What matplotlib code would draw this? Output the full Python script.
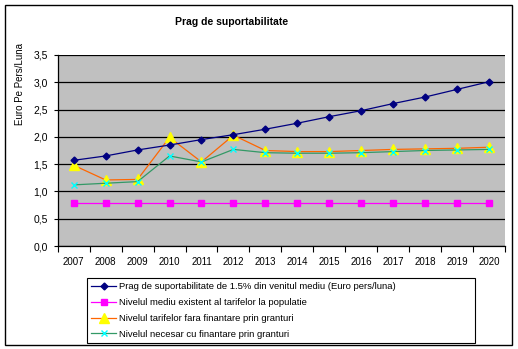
import matplotlib
matplotlib.use("Agg")
import matplotlib.pyplot as plt
from matplotlib.ticker import FixedLocator, FuncFormatter
from matplotlib.patches import Rectangle

years = [str(y) for y in range(2007, 2021)]
prag = [1.57, 1.65, 1.76, 1.85, 1.95, 2.04, 2.14, 2.25, 2.37, 2.48, 2.61, 2.73, 2.87, 3.01]
existent = [0.78] * 14
fara_granturi = [1.48, 1.21, 1.22, 1.99, 1.54, 2.03, 1.75, 1.73, 1.73, 1.75, 1.77, 1.78, 1.79, 1.81]
cu_granturi = [1.12, 1.15, 1.18, 1.65, 1.54, 1.77, 1.71, 1.70, 1.70, 1.71, 1.73, 1.75, 1.76, 1.77]

labels = [
    "Prag de suportabilitate de 1.5% din venitul mediu (Euro pers/luna)",
    "Nivelul mediu existent al tarifelor la populatie",
    "Nivelul tarifelor fara finantare prin granturi",
    "Nivelul necesar cu finantare prin granturi",
]

plt.rcParams["font.family"] = ["Liberation Sans", "DejaVu Sans"]

W, H = 518, 349
fig = plt.figure(figsize=(W / 100, H / 100), dpi=100)
fig.patch.set_facecolor("white")
fig.add_artist(Rectangle((5 / W, 1 - 345 / H), 507 / W, 340 / H, transform=fig.transFigure,
                         fill=False, edgecolor="black", linewidth=1.0))

ax = fig.add_axes([57.7 / W, 1 - 246 / H, (505 - 57.7) / W, (246 - 55) / H])
ax.set_facecolor("#C0C0C0")
x = list(range(len(years)))

ax.plot(x, prag, color="#000080", marker="D", markersize=3.5, linewidth=0.9,
        markerfacecolor="#000080", markeredgecolor="#000080", label=labels[0], zorder=5)
ax.plot(x, existent, color="#FF00FF", marker="s", markersize=5, linewidth=0.9,
        markerfacecolor="#FF00FF", markeredgecolor="#FF00FF", label=labels[1], zorder=4)
ax.plot(x, fara_granturi, color="#FF6600", marker="^", markersize=7, linewidth=0.9,
        markerfacecolor="#FFFF00", markeredgecolor="#FFFF00", label=labels[2], zorder=3)
ax.plot(x, cu_granturi, color="#339966", marker="x", markersize=5, linewidth=0.9,
        markeredgecolor="#00FFFF", markeredgewidth=1.0, label=labels[3], zorder=6)

ax.set_xlim(-0.5, len(years) - 0.5)
ax.set_ylim(0, 3.5)
ax.yaxis.set_major_locator(FixedLocator([i * 0.5 for i in range(8)]))
ax.yaxis.set_major_formatter(FuncFormatter(lambda v, p: f"{v:.1f}".replace(".", ",")))
ax.grid(axis="y", color="black", linewidth=0.9)
ax.set_axisbelow(True)

ax.set_xticks([i - 0.5 for i in range(len(years) + 1)])
ax.set_xticklabels([])
ax.set_xticks(x, minor=True)
ax.set_xticklabels(years, minor=True)
ax.tick_params(axis="x", which="major", direction="out", length=4, width=0.8)
ax.tick_params(axis="x", which="minor", length=0, pad=8, labelsize=7)
ax.tick_params(axis="y", direction="out", length=3, width=0.8, labelsize=7.5, pad=4)

for side in ["top", "right"]:
    ax.spines[side].set_visible(False)
ax.spines["left"].set_color("black")
ax.spines["bottom"].set_color("black")
ax.spines["left"].set_linewidth(0.9)
ax.spines["bottom"].set_linewidth(0.9)

fig.text(232 / W, 1 - 22 / H, "Prag de suportabilitate", ha="center", va="center",
         fontsize=7.5, fontweight="bold")
fig.text(20 / W, 1 - 84 / H, "Euro Pe Pers/Luna", ha="center", va="center",
         rotation=90, fontsize=7)

leg = fig.legend(loc="upper left", bbox_to_anchor=(87 / W, 1 - 278 / H, 388 / W, 0),
                 mode="expand", fontsize=6.8,
                 frameon=True, fancybox=False, edgecolor="black", framealpha=1,
                 borderpad=0.45, labelspacing=0.72, handlelength=2.6, handletextpad=0.3,
                 borderaxespad=0)
leg.get_frame().set_linewidth(0.8)

fig.savefig("out.png", dpi=100)
